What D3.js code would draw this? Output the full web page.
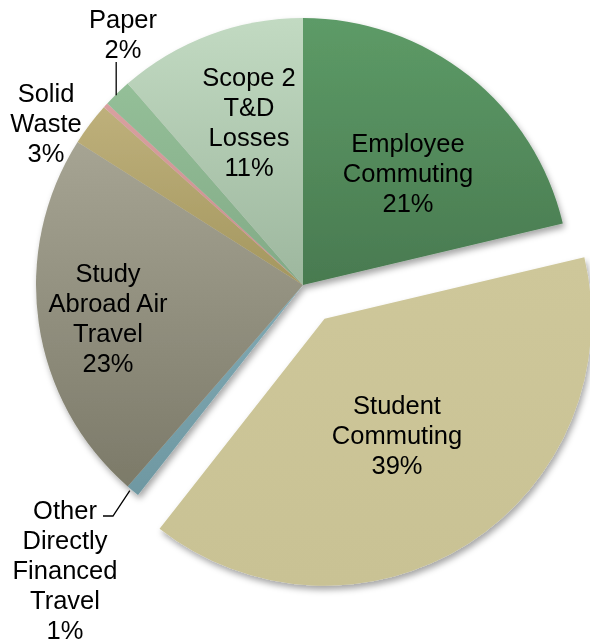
<!DOCTYPE html>
<html>
<head>
<meta charset="utf-8">
<script src="https://cdn.jsdelivr.net/npm/d3@7"></script>
<style>
  body { margin: 0; background: #fff; }
  text { font-family: "Liberation Sans", Arial, sans-serif; font-size: 25.5px; fill: #000; }
</style>
</head>
<body>
<div id="chart"></div>
<script>
// slices, clockwise from 12 o'clock
const categories = ["Employee Commuting", "Student Commuting", "Other Directly Financed Travel",
                    "Study Abroad Air Travel", "Solid Waste", "Wastewater", "Paper", "Scope 2 T&D Losses"];
const shares = [21.3, 39.3, 0.8, 22.6, 2.6, 0.3, 1.7, 11.4];
const pctLabels = ["21%", "39%", "1%", "23%", "3%", "", "2%", "11%"];
const labelLines = [
  ["Employee", "Commuting"],
  ["Student", "Commuting"],
  ["Other", "Directly", "Financed", "Travel"],
  ["Study", "Abroad Air", "Travel"],
  ["Solid", "Waste"],
  [],
  ["Paper"],
  ["Scope 2", "T&D", "Losses"]
];

const width = 590, height = 644;
const cx = 303, cy = 285, radius = 267;
const explodeIdx = 1, explodeDist = 40;
const lineH = 30;

// [top colour, bottom colour]
const colors = [
  ["#5d9b67", "#497a50"],
  ["#cec79a", "#c9c294"],
  ["#80a9b3", "#6f98a2"],
  ["#a6a493", "#7c7a69"],
  ["#beb07b", "#a4975f"],
  ["#d9a0a0", "#c98c8c"],
  ["#94bf98", "#82aa86"],
  ["#c2dac2", "#9db79e"]
];

// label block centre, offset from pie centre
const labelOffset = [
  [105, -112], [94, 150], [-238, 285], [-195, 33],
  [-257, -162], [0, 0], [-180, -251], [-54, -163]
];

const svg = d3.select("#chart")
    .append("svg")
    .attr("width", width)
    .attr("height", height);

const defs = svg.append("defs");

const shadow = defs.append("filter")
    .attr("id", "shadow")
    .attr("x", "-10%").attr("y", "-10%")
    .attr("width", "130%").attr("height", "130%");
shadow.append("feDropShadow")
    .attr("dx", 2).attr("dy", 4)
    .attr("stdDeviation", 3)
    .attr("flood-color", "#000")
    .attr("flood-opacity", 0.35);

colors.forEach((c, i) => {
  const g = defs.append("linearGradient")
      .attr("id", `grad${i}`)
      .attr("x1", 0).attr("y1", 0).attr("x2", 0).attr("y2", 1);
  g.append("stop").attr("offset", "0%").attr("stop-color", c[0]);
  g.append("stop").attr("offset", "100%").attr("stop-color", c[1]);
});

const data = categories.map((name, i) => ({ name, value: shares[i], i }));

const pie = d3.pie().sort(null).value(d => d.value);
const arc = d3.arc().innerRadius(0).outerRadius(radius);
const arcs = pie(data);

const offsetOf = d => {
  if (d.data.i !== explodeIdx) return [0, 0];
  const a = (d.startAngle + d.endAngle) / 2;
  return [explodeDist * Math.sin(a), -explodeDist * Math.cos(a)];
};

const g = svg.append("g")
    .attr("transform", `translate(${cx},${cy})`);

g.append("g")
    .attr("filter", "url(#shadow)")
    .selectAll("path")
    .data(arcs)
    .enter().append("path")
    .attr("d", arc)
    .attr("transform", d => `translate(${offsetOf(d)})`)
    .attr("fill", d => `url(#grad${d.data.i})`);

// leader lines for the small outside labels
const edgePoint = d => {
  const a = (d.startAngle + d.endAngle) / 2;
  return [radius * Math.sin(a), -radius * Math.cos(a)];
};

const paperEdge = edgePoint(arcs[6]);
g.append("path")
    .attr("d", d3.line()([[paperEdge[0] - 1, -223], [paperEdge[0] - 1, paperEdge[1] + 2]]))
    .attr("fill", "none")
    .attr("stroke", "#000")
    .attr("stroke-width", 1.3);

const otherEdge = edgePoint(arcs[2]);
g.append("path")
    .attr("d", d3.line()([[-200, 231], [-190, 231], [otherEdge[0] - 3, otherEdge[1]]]))
    .attr("fill", "none")
    .attr("stroke", "#000")
    .attr("stroke-width", 1.3);

// labels
arcs.forEach(d => {
  const i = d.data.i;
  if (!pctLabels[i]) return;
  const lines = labelLines[i].concat([pctLabels[i]]);
  const [ox, oy] = labelOffset[i];
  const top = oy - (lines.length - 1) * lineH / 2;
  const t = g.append("text")
      .attr("text-anchor", "middle");
  lines.forEach((s, k) => {
    t.append("tspan")
        .attr("x", ox)
        .attr("y", top + k * lineH + 9)
        .text(s);
  });
});
</script>
</body>
</html>
